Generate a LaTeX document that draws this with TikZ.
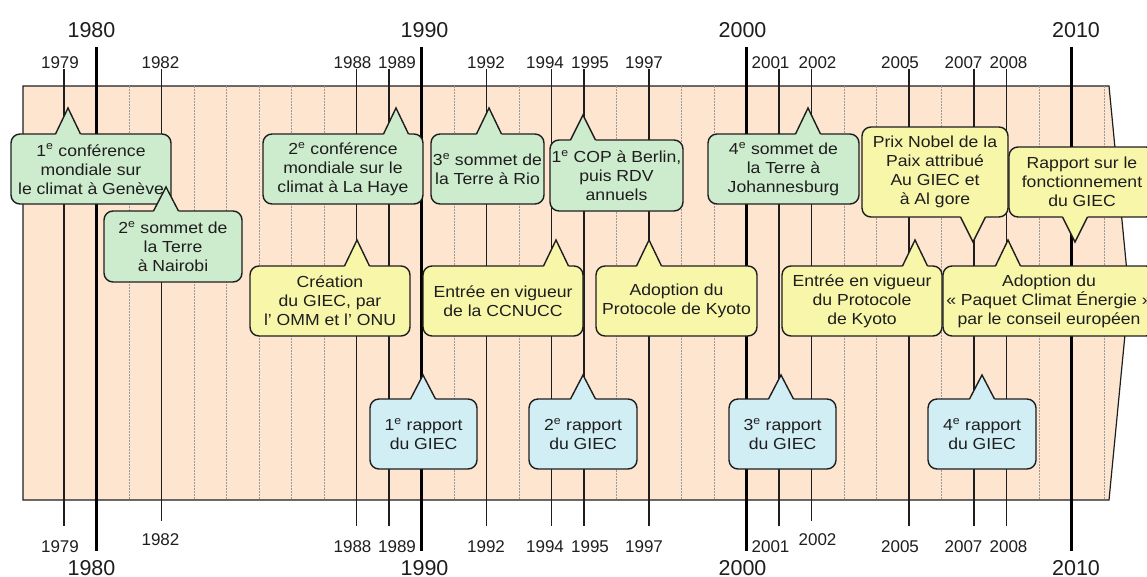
\documentclass[tikz,border=0pt]{standalone}
\usepackage{fontspec}
\setmainfont{Liberation Sans}
\newfontfamily\bfnt[FakeStretch=1.1]{Liberation Sans}
\definecolor{bgp}{HTML}{FDE5D0}
\definecolor{cg}{HTML}{CDEBCD}
\definecolor{cy}{HTML}{F8F6A8}
\definecolor{cb}{HTML}{D2EEF5}
\definecolor{ink}{HTML}{1E1E1E}
\definecolor{gridc}{HTML}{9A9A9A}
\tikzset{
  panel/.style={fill=bgp,draw=ink,line width=1.2pt},
  gridline/.style={draw=gridc,line width=0.6pt,dash pattern=on 2pt off 1pt},
  evline/.style={draw=ink,line width=1.3pt},
  decline/.style={draw=black,line width=3.2pt},
  yrlab/.style={inner sep=0pt,anchor=base,text=ink,font=\fontsize{17}{17}\selectfont},
  declab/.style={inner sep=0pt,anchor=base,text=ink,font=\fontsize{21.5}{21.5}\selectfont},
  cbox/.style={draw=ink,line width=1.4pt,rounded corners=9pt,inner sep=0pt,align=center,text=ink,
    font=\bfnt\fontsize{16}{19}\selectfont},
  cline/.style={draw=ink,line width=1.4pt,line join=miter},
}
\newcommand\callUp[9]{%
  \pgfmathsetmacro\cw{#5-#3}\pgfmathsetmacro\ch{#6-#4}%
  \node[cbox,fill=#2,minimum width=\cw pt,minimum height=\ch pt] (#1) at ({(#3+#5)/2},{(#4+#6)/2}) {#9};
  \fill[#2] ({#7-12.5},{#4+1.2}) -- ({#7-12.5},#4) -- (#7,#8) -- ({#7+12.5},#4) -- ({#7+12.5},{#4+1.2}) -- cycle;
  \draw[cline] ({#7-12.5},#4) -- (#7,#8) -- ({#7+12.5},#4);
}
\newcommand\callDown[9]{%
  \pgfmathsetmacro\cw{#5-#3}\pgfmathsetmacro\ch{#6-#4}%
  \node[cbox,fill=#2,minimum width=\cw pt,minimum height=\ch pt] (#1) at ({(#3+#5)/2},{(#4+#6)/2}) {#9};
  \fill[#2] ({#7-12.5},{#6-1.2}) -- ({#7-12.5},#6) -- (#7,#8) -- ({#7+12.5},#6) -- ({#7+12.5},{#6-1.2}) -- cycle;
  \draw[cline] ({#7-12.5},#6) -- (#7,#8) -- ({#7+12.5},#6);
}
\newcommand\ordn[1]{#1\textsuperscript{e}}
\begin{document}
\begin{tikzpicture}[x=1pt,y=-1pt]
\useasboundingbox (0,0) rectangle (1147,576);
% panel
\draw[panel] (23,86) -- (1109,86) -- (1129,293) -- (1109,500) -- (23,500) -- cycle;
% yearly grid
\foreach \yr in {1979,...,2011}{
  \draw[gridline] ({96.5+32.5*(\yr-1980)},86) -- ({96.5+32.5*(\yr-1980)},500);
}
% event years: year / label x / bottom line end / bottom label baseline
\foreach \yr/\lx/\be/\bb in {1979/60/526/552.5,1982/160.5/521/545.5,1988/352.5/526/552.5,1989/397/526/552.5,
  1992/486/526/552.5,1994/545/526/552.5,1995/590/526/552.5,1997/644/526/552.5,2001/770.5/526/552.5,
  2002/817.5/521/545.5,2005/900/526/552.5,2007/963.5/526/552.5,2008/1008.5/526/552.5}{
  \pgfmathsetmacro\xx{96.5+32.5*(\yr-1980)}
  \node[yrlab] (top\yr) at (\lx,68) {\yr};
  \node[yrlab] (bot\yr) at (\lx,\bb) {\yr};
  \draw[evline] (\xx,69) -- (\xx,\be);
}
% decades
\foreach \yr/\lx in {1980/91.5,1990/424.5,2000/742.5,2010/1076}{
  \pgfmathsetmacro\xx{96.5+32.5*(\yr-1980)}
  \node[declab] (dtop\yr) at (\lx,37.5) {\yr};
  \node[declab] (dbot\yr) at (\lx,575.5) {\yr};
  \draw[decline] (\xx,47) -- (\xx,551);
}
% callouts
\callUp{g1}{cg}{11}{134}{171}{204}{68}{108}{\ordn{1} conférence\\mondiale sur\\le climat à Genève}
\callUp{g2}{cg}{104}{211}{242}{282}{166}{187}{\ordn{2} sommet de\\la Terre\\à Nairobi}
\callUp{g3}{cg}{263}{134}{423}{204}{396}{108}{\ordn{2} conférence\\mondiale sur le\\climat à La Haye}
\callUp{g4}{cg}{431}{134}{544}{204}{489}{108}{\ordn{3} sommet de\\la Terre à Rio}
\callUp{g5}{cg}{550}{140}{683}{211}{583}{115}{\ordn{1} COP à Berlin,\\puis RDV\\annuels}
\callUp{g6}{cg}{708}{134}{859}{204}{808}{108}{\ordn{4} sommet de\\la Terre à\\Johannesburg}
\callUp{y1}{cy}{250}{266}{410}{336}{357}{240}{Création\\du GIEC, par\\l’ OMM et l’ ONU}
\callUp{y2}{cy}{423}{266}{583}{336}{556}{240}{Entrée en vigueur\\de la CCNUCC}
\callUp{y3}{cy}{596}{266}{757}{336}{649}{240}{Adoption du\\Protocole de Kyoto}
\callDown{y4}{cy}{862}{127}{1008}{217}{973}{242}{Prix Nobel de la\\Paix attribué\\Au GIEC et\\à Al gore}
\callDown{y5}{cy}{1009}{147}{1155}{217}{1075}{242}{Rapport sur le\\fonctionnement\\du GIEC}
\callUp{y6}{cy}{782}{266}{942}{336}{915}{240}{Entrée en vigueur\\du Protocole\\de Kyoto}
\callUp{y7}{cy}{943}{266}{1155}{336}{1008}{240}{Adoption du\\« Paquet Climat Énergie »\\par le conseil européen}
\callUp{b1}{cb}{370}{399}{477}{469}{423}{375}{\ordn{1} rapport\\du GIEC}
\callUp{b2}{cb}{529}{399}{637}{469}{583}{375}{\ordn{2} rapport\\du GIEC}
\callUp{b3}{cb}{729}{399}{836}{469}{781}{375}{\ordn{3} rapport\\du GIEC}
\callUp{b4}{cb}{928}{399}{1036}{469}{982}{375}{\ordn{4} rapport\\du GIEC}
\end{tikzpicture}
\end{document}
